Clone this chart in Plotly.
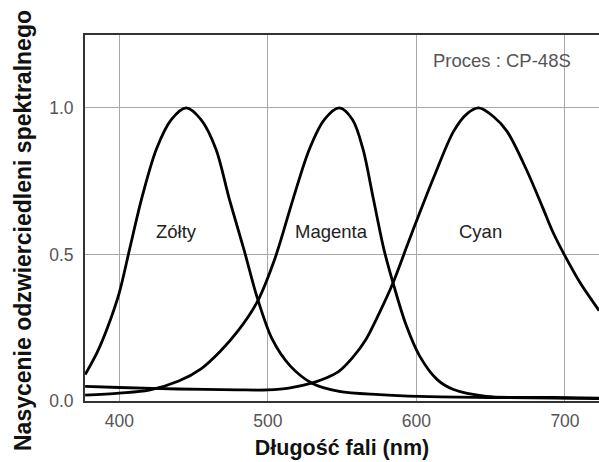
import plotly.graph_objects as go

# Wavelengths (nm) and saturation values
zolty_nm = [377, 385, 392, 400, 407, 415, 425, 435, 445, 455, 465, 474, 484, 493, 503, 515, 530, 548, 575, 602, 650, 723]
zolty_val = [0.09, 0.165, 0.25, 0.37, 0.52, 0.69, 0.86, 0.96, 1.0, 0.96, 0.86, 0.69, 0.515, 0.35, 0.21, 0.12, 0.06, 0.033, 0.022, 0.016, 0.012, 0.008]

magenta_nm = [377, 400, 420, 440, 455, 468, 480, 493, 505, 517, 528, 538, 548, 557, 564, 571, 578, 585, 593, 602, 614, 625, 647, 692, 723]
magenta_val = [0.02, 0.027, 0.037, 0.068, 0.11, 0.17, 0.24, 0.34, 0.49, 0.69, 0.86, 0.96, 1.0, 0.96, 0.86, 0.69, 0.52, 0.39, 0.26, 0.155, 0.073, 0.039, 0.016, 0.012, 0.01]

cyan_nm = [377, 400, 440, 480, 500, 515, 530, 540, 548, 557, 566, 575, 584, 593, 602, 613, 625, 634, 642, 652, 661, 674, 685, 692, 700, 710, 723]
cyan_val = [0.05, 0.046, 0.041, 0.038, 0.038, 0.045, 0.062, 0.08, 0.102, 0.148, 0.21, 0.30, 0.40, 0.52, 0.64, 0.78, 0.92, 0.98, 1.0, 0.97, 0.92, 0.79, 0.66, 0.575, 0.495, 0.405, 0.308]

x_ticks = [400, 500, 600, 700]
y_ticks = [0.0, 0.5, 1.0]
y_tick_labels = ["0.0", "0.5", "1.0"]

labels = ["Zółty", "Magenta", "Cyan"]
label_x = [438.8, 542.5, 642.8]
label_y = [0.578, 0.578, 0.578]

process_text = "Proces : CP-48S"

FONT = "Liberation Sans, Arial, sans-serif"

fig = go.Figure()
for xs, ys in [(zolty_nm, zolty_val), (magenta_nm, magenta_val), (cyan_nm, cyan_val)]:
    fig.add_trace(go.Scatter(
        x=xs, y=ys, mode="lines",
        line=dict(color="black", width=2.8, shape="spline", smoothing=0.9),
        showlegend=False, hoverinfo="skip",
    ))

for t, lx, ly in zip(labels, label_x, label_y):
    fig.add_annotation(x=lx, y=ly, text=t, showarrow=False,
                       font=dict(family=FONT, size=18.5, color="#222"))

fig.add_annotation(x=657.9, y=1.162, text=process_text, showarrow=False,
                   font=dict(family=FONT, size=18.5, color="#555"))

fig.add_annotation(xref="paper", yref="paper", x=-0.1206, y=0.4645,
                   xanchor="center", yanchor="middle",
                   text="<b>Nasycenie odzwierciedleni spektralnego</b>",
                   textangle=-90, showarrow=False,
                   font=dict(family=FONT, size=23, color="#111"))

fig.update_layout(
    width=599, height=462,
    margin=dict(l=85, r=0, t=35, b=61),
    paper_bgcolor="white", plot_bgcolor="white",
    font=dict(family=FONT),
    xaxis=dict(
        range=[376.9, 722.9], tickvals=x_ticks, ticks="",
        showgrid=True, gridcolor="#a8a8a8", gridwidth=1,
        showline=True, linecolor="#333", linewidth=2, mirror=True,
        zeroline=False, ticklabelstandoff=3,
        tickfont=dict(family=FONT, size=17.5, color="#555"),
        title=dict(text="<b>Długość fali (nm)</b>",
                   font=dict(family=FONT, size=21.5, color="#111"), standoff=10),
    ),
    yaxis=dict(
        range=[0, 1.249], tickvals=y_ticks, ticktext=y_tick_labels, ticks="",
        showgrid=True, gridcolor="#a8a8a8", gridwidth=1,
        showline=True, linecolor="#333", linewidth=2,
        zeroline=False, ticklabelstandoff=6,
        tickfont=dict(family=FONT, size=17.5, color="#555"),
    ),
)

fig.write_html(
    "out.html",
    config={"displayModeBar": False},
    post_script="document.body.style.margin='0';document.body.style.overflow='hidden';",
)
